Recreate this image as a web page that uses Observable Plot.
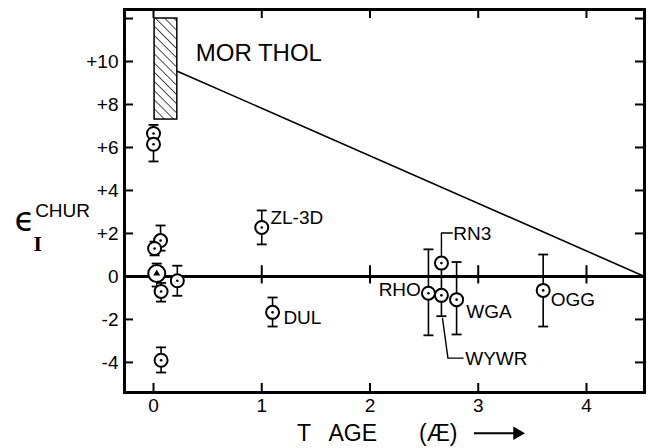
<!DOCTYPE html>
<html><head><meta charset="utf-8">
<script src="https://cdn.jsdelivr.net/npm/d3@7"></script>
<script src="https://cdn.jsdelivr.net/npm/@observablehq/plot@0.6"></script>
<style>body{margin:0;background:#fff}</style>
</head><body><div id="chart"></div>
<script>
// ---- data ----
const ageX   = [0.00, 0.00, 0.065, 0.01, 0.03, 0.22, 0.07, 0.07, 1.00, 1.10, 2.54, 2.66, 2.66, 2.80, 3.60];
const epsY   = [6.65, 6.15, 1.67, 1.30, 0.14, -0.20, -0.70, -3.90, 2.28, -1.67, -0.78, 0.62, -0.88, -1.08, -0.65];
const errLo  = [6.65, 5.35, 1.20, 0.98, -0.47, -0.90, -1.17, -4.47, 1.49, -2.33, -2.74, null, -1.85, -2.70, -2.33];
const errHi  = [7.05, 6.15, 2.37, 1.62, 0.60, 0.50, -0.30, -3.30, 3.07, -0.98, 1.26, null, 0.62, 0.67, 1.02];
const bigMarker = [false, false, false, false, true, false, false, false, false, false, false, false, false, false, false];

// MOR THOL box and mixing line
const morX = [0.01, 0.22];
const morY = [7.3, 12.0];
const mixX = [0.22, 4.536];
const mixY = [9.55, 0];

// sample labels
const labelText   = ["MOR THOL", "ZL-3D", "DUL", "RHO", "RN3", "WGA", "WYWR", "OGG"];
const labelX      = [0.39, 1.08, 1.20, 2.47, 2.77, 2.89, 2.88, 3.67];
const labelY      = [10.4, 2.74, -1.95, -0.62, 1.98, -1.63, -3.84, -1.07];
const labelAnchor = ["start", "start", "start", "end", "start", "start", "start", "start"];
const labelSize   = [24, 19, 19, 19, 19, 19, 19, 19];

// leader lines (RN3, WYWR)
const leaderId = ["RN3", "RN3", "RN3", "WYWR", "WYWR", "WYWR"];
const leaderX  = [2.66, 2.66, 2.76, 2.67, 2.72, 2.86];
const leaderY  = [0.90, 2.02, 2.02, -1.95, -3.80, -3.80];

// ticks
const yTicks = [-4, -2, 0, 2, 4, 6, 8, 10];
const yMinor = [-4, -2, 0, 2, 4, 6, 8, 10, 12];
const xTicks = [0, 1, 2, 3, 4];
const zeroLineTicks = [1, 2, 3, 4];

// axis titles
const xTitleText = ["T", "AGE", "(Æ)"];
const xTitleX = [1.39, 1.84, 2.63];
const xTitleY = -7.3;
const arrowX = [2.96, 3.36];

const W = 648, H = 448;
const M = {top: 9, right: 4, bottom: 56, left: 124};
const plotW = W - M.left - M.right, plotH = H - M.top - M.bottom;
const tickLen = 9;

const points = ageX.map((x, i) => ({x, y: epsY[i], lo: errLo[i], hi: errHi[i], big: bigMarker[i]}));
const bars = points.filter(d => d.lo != null);
const capSymbol = {draw(ctx, size) { const r = Math.sqrt(size / Math.PI); ctx.moveTo(-r, 0); ctx.lineTo(r, 0); }};
const capsLo = bars.map(d => ({x: d.x, y: d.lo}));
const capsHi = bars.map(d => ({x: d.x, y: d.hi}));
const labels = labelText.map((t, i) => ({t, x: labelX[i], y: labelY[i], a: labelAnchor[i], s: labelSize[i]}));
const leaders = leaderId.map((id, i) => ({id, x: leaderX[i], y: leaderY[i]}));
const fmt = d => d > 0 ? "+" + d : String(d);
const font = "Liberation Sans, Arial, sans-serif";

const chart = Plot.plot({
  width: W, height: H,
  marginTop: M.top, marginRight: M.right, marginBottom: M.bottom, marginLeft: M.left,
  style: {fontFamily: font, background: "white", color: "black", overflow: "visible"},
  x: {domain: [-0.268, 4.536]},
  y: {domain: [-5.40, 12.42]},
  marks: [
    Plot.axisY({ticks: yTicks, tickSize: 0, tickPadding: 6, tickFormat: fmt, fontSize: 19, label: null}),
    Plot.axisX({ticks: xTicks, tickSize: 0, tickPadding: 6, tickFormat: d => String(d), fontSize: 19, label: null}),
    // inward ticks
    Plot.tickY(yMinor, {y: d => d, insetRight: plotW - tickLen, strokeWidth: 2}),
    Plot.tickY(yMinor, {y: d => d, insetLeft: plotW - tickLen, strokeWidth: 2}),
    Plot.tickX(xTicks, {x: d => d, insetBottom: plotH - tickLen, strokeWidth: 2}),
    Plot.tickX(xTicks, {x: d => d, insetTop: plotH - tickLen, strokeWidth: 2}),
    Plot.ruleY([0], {strokeWidth: 3}),
    Plot.ruleX(zeroLineTicks, {y1: -0.35, y2: 0.5, strokeWidth: 2}),
    // MOR THOL box and line
    Plot.rect([{x1: morX[0], x2: morX[1], y1: morY[0], y2: morY[1]}], {x1: "x1", x2: "x2", y1: "y1", y2: "y2", fill: "url(#hatch)", stroke: "black", strokeWidth: 1.5}),
    Plot.line(mixX.map((x, i) => ({x, y: mixY[i]})), {x: "x", y: "y", strokeWidth: 1.6}),
    // error bars
    Plot.ruleX(bars, {x: "x", y1: "lo", y2: "hi", strokeWidth: 1.6}),
    Plot.dot(capsLo, {x: "x", y: "y", symbol: capSymbol, r: 5, stroke: "black", strokeWidth: 1.8}),
    Plot.dot(capsHi, {x: "x", y: "y", symbol: capSymbol, r: 5, stroke: "black", strokeWidth: 1.8}),
    // leaders
    Plot.line(leaders, {x: "x", y: "y", z: "id", strokeWidth: 1.4}),
    // points
    Plot.dot(points.filter(d => !d.big), {x: "x", y: "y", r: 6.5, fill: "white", stroke: "black", strokeWidth: 2}),
    Plot.dot(points.filter(d => d.big), {x: "x", y: "y", r: 8.5, fill: "white", stroke: "black", strokeWidth: 2}),
    Plot.dot(points.filter(d => !d.big), {x: "x", y: "y", r: 1.3, fill: "black"}),
    Plot.dot(points.filter(d => d.big), {x: "x", y: "y", r: 2.6, symbol: "triangle", fill: "black"}),
    // labels
    Plot.text(labels.filter(d => d.a === "start" && d.s > 20), {x: "x", y: "y", text: "t", textAnchor: "start", fontSize: 24, letterSpacing: 1, fill: "black"}),
    Plot.text(labels.filter(d => d.a === "start" && d.s <= 20), {x: "x", y: "y", text: "t", textAnchor: "start", fontSize: 19, fill: "black"}),
    Plot.text(labels.filter(d => d.a === "end"), {x: "x", y: "y", text: "t", textAnchor: "end", fontSize: 19, fill: "black"}),
    Plot.frame({strokeWidth: 3}),
    // x title
    Plot.text(xTitleText.map((t, i) => ({t, x: xTitleX[i], y: xTitleY})), {x: "x", y: "y", text: "t", fontSize: 23}),
    Plot.link([{x1: arrowX[0], x2: arrowX[1], y: xTitleY}], {x1: "x1", x2: "x2", y1: "y", y2: "y", strokeWidth: 2}),
    Plot.dot([{x: arrowX[1], y: xTitleY}], {x: "x", y: "y", symbol: "triangle", rotate: 90, r: 5, fill: "black"}),
    // y title
    Plot.text([{t: "ϵ", x: -1.19, y: 2.6}], {x: "x", y: "y", text: "t", fontSize: 33, fontFamily: "DejaVu Sans"}),
    Plot.text([{t: "CHUR", x: -0.84, y: 3.07}], {x: "x", y: "y", text: "t", fontSize: 19}),
    Plot.text([{t: "I", x: -1.07, y: 1.44}], {x: "x", y: "y", text: "t", fontSize: 18, fontFamily: "DejaVu Serif", fontWeight: "bold"})
  ]
});

// hatch pattern for MOR THOL box
const svg = chart.tagName.toLowerCase() === "svg" ? chart : chart.querySelector("svg");
const defs = d3.select(svg).insert("defs", ":first-child");
const pat = defs.append("pattern").attr("id", "hatch").attr("patternUnits", "userSpaceOnUse")
  .attr("width", 6.5).attr("height", 6.5).attr("patternTransform", "rotate(45)");
pat.append("rect").attr("width", 6.5).attr("height", 6.5).attr("fill", "white");
pat.append("line").attr("x1", 0).attr("y1", 0).attr("x2", 6.5).attr("y2", 0).attr("stroke", "black").attr("stroke-width", 1.4);
document.getElementById("chart").appendChild(chart);
</script>
</body></html>
